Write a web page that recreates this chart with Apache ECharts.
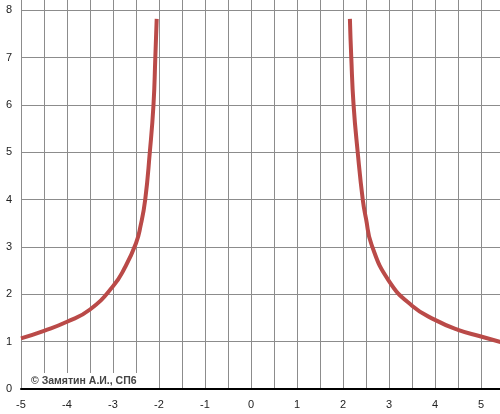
<!DOCTYPE html>
<html>
    <head>
        <meta charset="utf-8"/>
        <title>chart</title>
        <script src="https://cdn.jsdelivr.net/npm/echarts@6/dist/echarts.min.js"></script>
        <style>
            html, body { margin: 0; padding: 0; background: #fff; }
        </style>
    </head>
    <body>
        <div id="main" style="width: 500px;height:414px;"></div>

        <script type="text/javascript">
            // left branch
            var leftX = [-5, -4.5, -4, -3.5, -3, -2.75, -2.5, -2.4, -2.3, -2.2, -2.12, -2.08, -2.05];
            var leftY = [1.07, 1.23, 1.42, 1.68, 2.17, 2.55, 3.08, 3.45, 4.0, 5.0, 6.0, 7.0, 7.82];
            // right branch
            var rightX = [2.15, 2.18, 2.23, 2.32, 2.43, 2.5, 2.62, 3, 3.5, 4, 4.5, 5, 5.5];
            var rightY = [7.82, 7.0, 6.0, 5.0, 4.0, 3.6, 3.05, 2.28, 1.76, 1.46, 1.25, 1.11, 0.97];

            var copyright = '\u00A9 Замятин А.И., СП6';

            function pairs(xs, ys) {
                return xs.map(function (x, i) { return [x, ys[i]]; });
            }

            var chartDom = document.getElementById('main');
            var myChart = echarts.init(chartDom);

            var lineStyle = { color: '#BA4A48', width: 4 };

            var option = {
                animation: false,
                // plot runs past the top and right edges, like the cropped original
                grid: { left: 21, right: -4, top: -37, bottom: 25, outerBoundsMode: 'none', containLabel: false },
                xAxis: {
                    type: 'value',
                    min: -5,
                    max: 5.5,
                    interval: 0.5,
                    axisLine: { onZero: true, lineStyle: { color: '#000', width: 2 } },
                    axisTick: { show: false },
                    axisLabel: {
                        margin: 10,
                        color: '#222',
                        fontSize: 11,
                        fontFamily: 'Liberation Sans, Arial, sans-serif',
                        formatter: function (v) { return Number.isInteger(v) ? String(v) : ''; }
                    },
                    splitLine: { show: true, lineStyle: { color: '#8c8c8c', width: 1 } }
                },
                yAxis: {
                    type: 'value',
                    min: 0,
                    max: 9,
                    interval: 1,
                    axisLine: { show: true, lineStyle: { color: '#8c8c8c', width: 1 } },
                    axisTick: { show: false },
                    axisLabel: {
                        margin: 9,
                        color: '#222',
                        fontSize: 11,
                        fontFamily: 'Liberation Sans, Arial, sans-serif'
                    },
                    splitLine: { show: true, lineStyle: { color: '#8c8c8c', width: 1 } }
                },
                series: [{
                    type: 'line',
                    data: pairs(leftX, leftY),
                    smooth: 0.5,
                    showSymbol: false,
                    lineStyle: lineStyle
                }, {
                    type: 'line',
                    data: pairs(rightX, rightY),
                    smooth: 0.5,
                    showSymbol: false,
                    lineStyle: lineStyle
                }],
                graphic: [{
                    type: 'rect',
                    left: 22,
                    top: 373,
                    shape: { width: 136, height: 15 },
                    style: { fill: '#fff' },
                    z: 100
                }, {
                    type: 'text',
                    left: 31,
                    top: 376,
                    style: {
                        text: copyright,
                        fill: '#444',
                        font: 'bold 10.5px Liberation Sans, Arial, sans-serif'
                    },
                    z: 101
                }]
            };

            myChart.setOption(option);
        </script>
    </body>
</html>
